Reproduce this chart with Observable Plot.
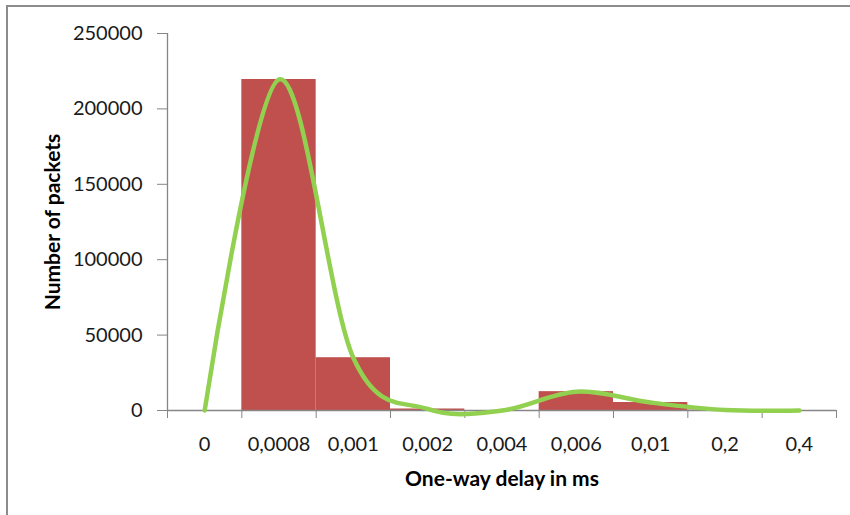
<!DOCTYPE html>
<html>
<head>
<meta charset="utf-8">
<script src="https://cdn.jsdelivr.net/npm/d3@7"></script>
<script src="https://cdn.jsdelivr.net/npm/@observablehq/plot@0.6"></script>
<style>
  html, body { margin: 0; padding: 0; background: #fff; }
  #wrap { position: relative; width: 850px; height: 515px; overflow: hidden; }
  #frame { position: absolute; left: 6px; top: 5px; width: 900px; height: 600px;
           border-left: 2px solid #8c8c8c; border-top: 2px solid #8c8c8c; pointer-events: none; }
  #chart { position: absolute; left: 0; top: 0; }
</style>
</head>
<body>
<div id="wrap"><div id="chart"></div><div id="frame"></div></div>
<script>
const categories = ["0", "0,0008", "0,001", "0,002", "0,004", "0,006", "0,01", "0,2", "0,4"];
const packets = [0, 219500, 35000, 1000, 0, 12500, 5300, 300, 0];
const yTicks = [0, 50000, 100000, 150000, 200000, 250000];
const xTitle = "One-way delay in ms";
const yTitle = "Number of packets";

const data = categories.map((c, i) => ({i, c, v: packets[i]}));
const boundaries = d3.range(categories.length + 1).map(k => k - 0.5);
const axisGray = "#868686";

const chart = Plot.plot({
  width: 850,
  height: 515,
  marginLeft: 167,
  marginRight: 14,
  marginTop: 33,
  marginBottom: 105,
  style: {fontFamily: "Lato, 'Open Sans', sans-serif", fontSize: "20px", color: "#000", background: "transparent"},
  x: {domain: [-0.5, categories.length - 0.5]},
  y: {domain: [0, 250000]},
  marks: [
    Plot.rectY(data, {x1: d => d.i - 0.5, x2: d => d.i + 0.5, y: "v", fill: "#C0504D"}),
    Plot.ruleY([0], {stroke: axisGray, strokeWidth: 1.3}),
    Plot.ruleX([-0.5], {stroke: axisGray, strokeWidth: 1.3}),
    Plot.axisY({ticks: yTicks, tickSize: 10, tickPadding: 15, tickFormat: d => String(d),
                stroke: axisGray, fill: "#1a1a1a", label: null}),
    Plot.axisX({ticks: boundaries, tickSize: 8, tickFormat: () => "", stroke: axisGray, label: null}),
    Plot.axisX({ticks: d3.range(categories.length), tickSize: 0, tickPadding: 26,
                tickFormat: i => categories[i], fill: "#1a1a1a", label: null}),
    Plot.lineY(data, {x: "i", y: "v", curve: "cardinal", stroke: "#92D050", strokeWidth: 4.5}),
    Plot.text([xTitle], {frameAnchor: "bottom", dy: 75, fontWeight: "bold", fontSize: 21, fill: "#000"}),
    Plot.text([yTitle], {frameAnchor: "left", textAnchor: "middle", dx: -114, rotate: -90,
                         fontWeight: "bold", fontSize: 21, fill: "#000"})
  ]
});
document.getElementById("chart").appendChild(chart);
</script>
</body>
</html>
